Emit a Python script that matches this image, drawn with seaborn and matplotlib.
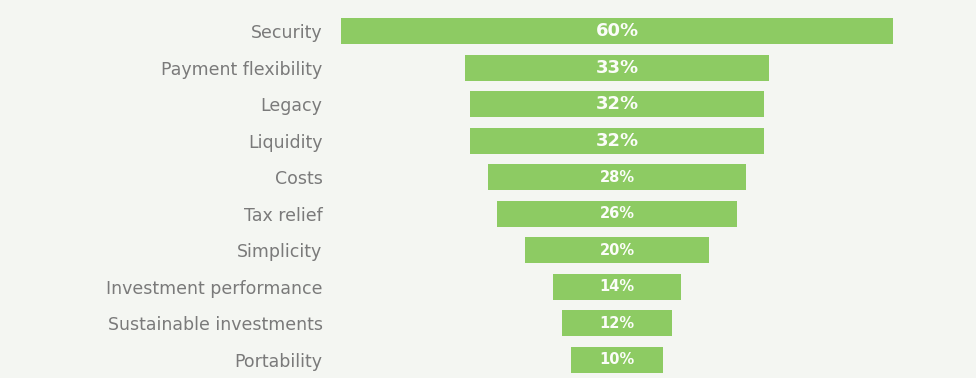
import matplotlib
matplotlib.use("Agg")
import matplotlib.pyplot as plt
import seaborn as sns
import pandas as pd

categories = ["Security", "Payment flexibility", "Legacy", "Liquidity", "Costs",
              "Tax relief", "Simplicity", "Investment performance",
              "Sustainable investments", "Portability"]
values = [60, 33, 32, 32, 28, 26, 20, 14, 12, 10]
value_labels = ["60%", "33%", "32%", "32%", "28%", "26%", "20%", "14%", "12%", "10%"]

df = pd.DataFrame({"category": categories, "value": values})

sns.set_theme(style="white")
plt.rcParams['font.family'] = ['DejaVu Sans']

bg = "#f4f6f2"
bar_color = "#8dcb63"

fig = plt.figure(figsize=(9.76, 3.78), dpi=100, facecolor=bg)
ax = fig.add_axes([335 / 976, 0, (976 - 335) / 976, 1])
ax.set_facecolor(bg)

sns.barplot(data=df, x="value", y="category", order=categories, orient="h",
            color=bar_color, saturation=1, width=0.71, linewidth=0, ax=ax)

# center each bar (funnel layout)
for p in ax.patches:
    w = p.get_width()
    p.set_x(-w / 2)

for i, (v, lab) in enumerate(zip(values, value_labels)):
    fs = 13 if i < 4 else 10.5
    ax.text(0, i, lab, ha="center", va="center", color="#fbfdf8",
            fontsize=fs, fontweight="bold")

ax.set_xlim(-(617 - 335) / 9.2, (976 - 617) / 9.2)
ax.set_ylim((378 - 31) / 36.55, -31 / 36.55)

ax.set_xlabel("")
ax.set_ylabel("")
ax.set_xticks([])
ax.tick_params(axis="y", length=0, pad=9, labelsize=12.5, labelcolor="#7a7a7a")
for s in ax.spines.values():
    s.set_visible(False)

fig.savefig("out.png", dpi=100, facecolor=bg)
